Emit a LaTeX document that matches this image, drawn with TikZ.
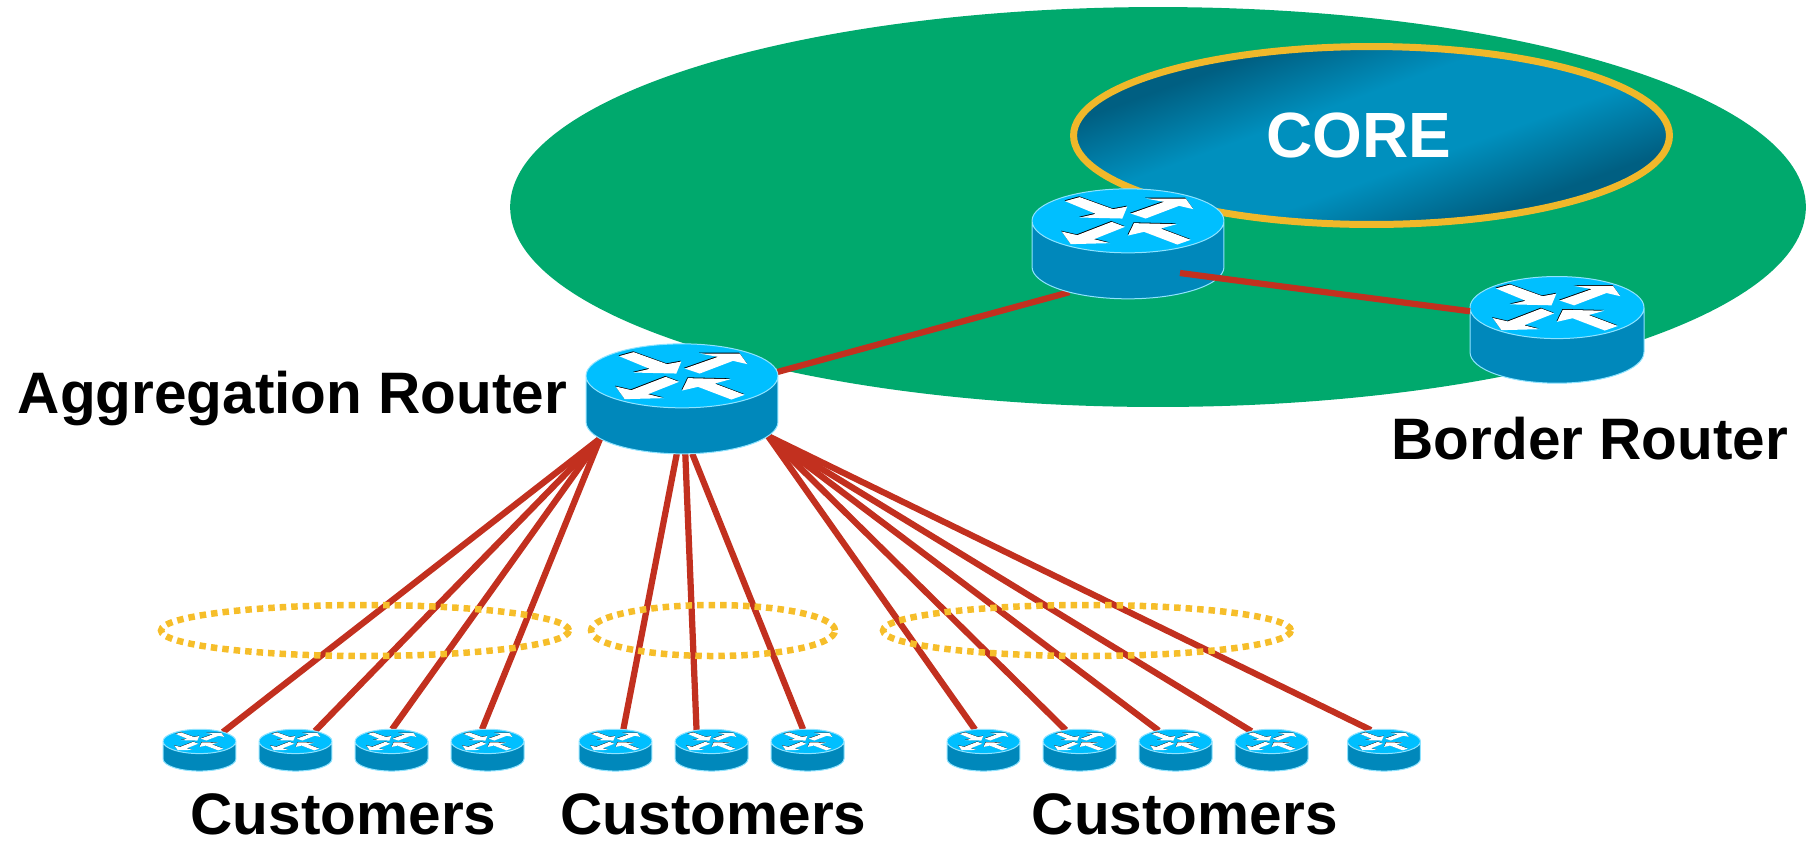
\documentclass[tikz,border=0pt]{standalone}
\usepackage{fontspec}
\setmainfont{Liberation Sans}
\usetikzlibrary{calc}
\usetikzlibrary{positioning}
\usetikzlibrary{shapes}

\definecolor{areagreen}{HTML}{00A96D}
\definecolor{coreedge}{HTML}{F0B82A}
\definecolor{coremid}{HTML}{0090BE}
\definecolor{coredark}{HTML}{005F82}
\definecolor{ringdot}{HTML}{F6BE2A}
\definecolor{linkred}{HTML}{C2301F}
\definecolor{routertop}{HTML}{00BFFF}
\definecolor{routerside}{HTML}{0088BB}
\definecolor{routeredge}{HTML}{8FE3FF}

\pgfdeclarelayer{area}
\pgfdeclarelayer{links}
\pgfsetlayers{area,links,main}

\pgfdeclareverticalshading{coreshade}{100bp}{
  color(0bp)=(coredark); color(30bp)=(coredark); color(43bp)=(coremid);
  color(57bp)=(coremid); color(70bp)=(coredark); color(100bp)=(coredark)}

\newcommand{\crossarrows}{
  (-63,-19.7) -- (-48.3,-23.7) -- (-15,-11.7) -- (-.7,-14.3) -- (-5.7,-2.3) -- (-48.3,-3.3) -- (-32.3,-7) -- cycle
  (2.7,-7.3) -- (36,-19) -- (17.7,-22.3) -- (57.7,-22.3) -- (65.3,-11.7) -- (51,-15) -- (17.7,-2.3) -- cycle
  (-3,6) -- (-16.3,1) -- (-50.7,14.3) -- (-66.3,10.7) -- (-57.3,23.3) -- (-18,22.3) -- (-34,18.3) -- cycle
  (62.7,19) -- (49.3,23.7) -- (16,11) -- (0,14.7) -- (6,2.3) -- (48.7,3.3) -- (32.7,7.7) -- cycle}

\begin{document}
\begin{tikzpicture}[x=0.02cm,y=-0.02cm,font=\bfseries\fontsize{33.3}{40}\selectfont]
  \tikzset{topmark/.pic={
      \fill[black,shift={(-.5,-23.8)}] \crossarrows;
      \fill[white,shift={(0,-23)}] \crossarrows;}}
  \tikzset{router/.style={cylinder, shape border rotate=90,
      aspect=1,
      minimum height=#1*2.2cm,
      minimum width=#1*3.84cm,
      inner xsep=#1*.64cm, inner ysep=0pt, outer sep=0pt,
      cylinder uses custom fill,
      cylinder end fill=routertop,
      cylinder body fill=routerside,
      draw=routeredge, line width=.02cm,
      path picture={\pic[scale=#1] at (path picture bounding box.center) {topmark};}}}
  \tikzset{ring/.style={ellipse, inner sep=0pt,
      minimum height=1.02cm,
      draw=ringdot, line width=.13cm,
      dash pattern=on .13cm off .1cm}}
  \tikzset{link/.style={draw=linkred, line width=.125cm}}
  \useasboundingbox (0,0) rectangle (1812,840);

  \begin{pgfonlayer}{area}
    \node[ellipse, fill=areagreen, inner sep=0pt, minimum width=25.92cm, minimum height=8cm] (area) at (1158,207) {};
    \node[ellipse, shading=coreshade, shading angle=20, draw=coreedge, line width=.14cm, inner sep=0pt,
      minimum width=11.92cm, minimum height=3.56cm] (core) at (1371.5,135.5) {};
  \end{pgfonlayer}
  \node[text=white, font=\bfseries\fontsize{36.4}{44}\selectfont, xshift=-.26cm] (corelabel) at (core) {CORE};

  \node[router=1] (agg) at (682,427) {};
  \node[router=1] (mid) at (1128,272) {};
  \node[router=.97, minimum width=3.48cm] (border) at (1557,357.5) {};
  \coordinate (midport) at (1180,273);

  \node[router=.38] (cust1) at (199.5,761) {};
  \node[router=.38] (cust2) [right=.484cm of cust1] {};
  \node[router=.38] (cust3) [right=.484cm of cust2] {};
  \node[router=.38] (cust4) [right=.484cm of cust3] {};
  \node[router=.38] (cust5) at (615.5,761) {};
  \node[router=.38] (cust6) [right=.484cm of cust5] {};
  \node[router=.38] (cust7) [right=.484cm of cust6] {};
  \node[router=.38] (cust8) at (983.5,761) {};
  \node[router=.38] (cust9) [right=.484cm of cust8] {};
  \node[router=.38] (cust10) [right=.484cm of cust9] {};
  \node[router=.38] (cust11) [right=.484cm of cust10] {};
  \node[router=.38] (cust12) at (1384,761) {};

  \node[ring, minimum width=8.16cm] (ring1) at (365,630.5) {};
  \node[ring, minimum width=4.88cm] (ring2) at (713,630.5) {};
  \node[ring, minimum width=8.16cm] (ring3) at (1087,630.5) {};

  \node (agglabel) [left=.28cm of agg, yshift=.58cm] {Aggregation Router};
  \node (borderlabel) [below=.56cm of border, xshift=.66cm] {Border Router};
  \node (custlabel1) at ($(cust1)!.5!(cust4)+(0,53)$) {Customers};
  \node (custlabel2) at ($(cust5)!.5!(cust7)+(2,53)$) {Customers};
  \node (custlabel3) at ($(cust8)!.5!(cust12)+(1,53)$) {Customers};

  \begin{pgfonlayer}{links}
    \draw[link] (agg.30) -- (mid.199);
    \draw[link] (agg.188) -- (cust1.51);
    \draw[link] (agg.188) -- (cust2.57);
    \draw[link] (agg.188) -- (cust3.89);
    \draw[link] (agg.188) -- (cust4.100);
    \draw[link] (agg.259) -- (cust5.76);
    \draw[link] (agg.277) -- (cust6.116);
    \draw[link] (agg.291) -- (cust7.98);
    \draw[link] (agg.354) -- (cust8.105);
    \draw[link] (agg.354) -- (cust9.114);
    \draw[link] (agg.354) -- (cust10.119);
    \draw[link] (agg.354) -- (cust11.124);
    \draw[link] (agg.354) -- (cust12.113);
  \end{pgfonlayer}
  \draw[link] (midport) -- (border.152);
\end{tikzpicture}
\end{document}
